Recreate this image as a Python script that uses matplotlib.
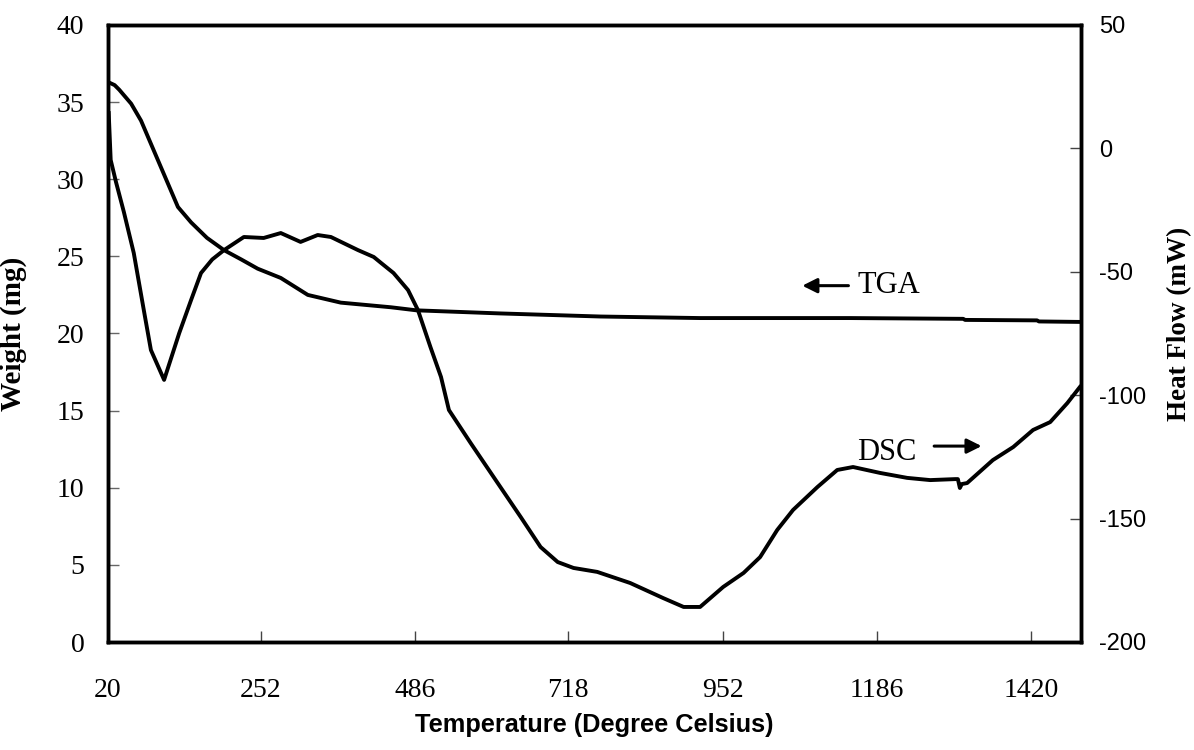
import matplotlib
matplotlib.use("Agg")
import matplotlib.pyplot as plt

# TGA: temperature (C) vs weight (mg), left axis
tga_temp = [20, 30, 37, 47, 55, 70, 96, 126, 146, 170, 196, 222, 247, 282,
            323, 373, 449, 488, 615, 767, 918, 1146, 1317, 1320, 1429, 1432,
            1494]
tga_weight = [36.3, 36.1, 35.8, 35.3, 34.9, 33.8, 31.2, 28.2, 27.2, 26.2,
              25.4, 24.8, 24.2, 23.6, 22.5, 22.0, 21.7, 21.5, 21.3, 21.1, 21.0,
              21.0, 20.95, 20.88, 20.85, 20.78, 20.75]

# DSC: temperature (C) vs heat flow (mW), right axis
dsc_temp = [21, 24, 32, 44, 59, 75, 85, 105, 128, 146, 161, 178, 196, 226,
            256, 282, 312, 338, 358, 399, 423, 434, 453, 475, 490, 509, 525,
            537, 570, 611, 646, 676, 702, 726, 762, 812, 862, 893, 918, 953,
            984, 1009, 1035, 1059, 1096, 1126, 1150, 1191, 1232, 1267, 1305,
            1309, 1312, 1315, 1323, 1362, 1393, 1423, 1449, 1475, 1494]
dsc_flow = [14.3, -4.7, -13.6, -25.8, -42.4, -66.7, -81.7, -93.8, -74.8,
            -61.4, -50.5, -45.0, -41.2, -35.9, -36.3, -34.3, -37.9, -35.1,
            -35.9, -41.2, -44.0, -46.4, -50.5, -57.4, -65.5, -80.5, -92.6,
            -106.0, -119.4, -135.6, -149.4, -161.5, -167.6, -170.0, -171.6,
            -176.1, -182.2, -185.8, -185.8, -177.7, -172.0, -165.6, -154.6,
            -146.5, -137.2, -130.3, -129.1, -131.5, -133.5, -134.4, -134.0,
            -134.0, -137.6, -136.0, -135.6, -126.3, -121.0, -114.1, -110.9,
            -103.2, -96.7]

x_ticks = [20, 252, 486, 718, 952, 1186, 1420]
left_ticks = [0, 5, 10, 15, 20, 25, 30, 35, 40]
right_ticks = [-200, -150, -100, -50, 0, 50]

serif = "Liberation Serif"
sans = "Liberation Sans"

fig = plt.figure(figsize=(11.94, 7.5), dpi=100)
ax1 = fig.add_axes([0.0905, 0.144, 0.815, 0.8227])
ax2 = ax1.twinx()

ax1.plot(tga_temp, tga_weight, color="black", lw=2.8)
ax2.plot(dsc_temp, dsc_flow, color="black", lw=2.8)

ax1.set_xlim(20, 1496)
ax1.set_ylim(0, 40)
ax2.set_ylim(-200, 50)

ax1.set_xticks(x_ticks)
ax1.set_xticklabels([str(t) for t in x_ticks], fontfamily=serif, fontsize=20)
ax1.set_yticks(left_ticks)
ax1.set_yticklabels([str(t) for t in left_ticks], fontfamily=serif, fontsize=20)
ax2.set_yticks(right_ticks)
ax2.set_yticklabels([str(t) for t in right_ticks], fontfamily=sans, fontsize=17)

ax1.tick_params(axis="x", direction="in", length=8, width=1, color="#444444", pad=26)
ax1.tick_params(axis="y", direction="in", length=8, width=1, color="#666666", pad=17)
ax2.tick_params(axis="y", direction="in", length=8, width=1, color="#444444", pad=13)

for ax in (ax1, ax2):
    for sp in ax.spines.values():
        sp.set_linewidth(2.5)

ax1.set_xlabel("Temperature (Degree Celsius)", fontfamily=sans, fontweight="bold",
               fontsize=18.3)
ax1.xaxis.set_label_coords(0.5, -0.115)
ax1.set_ylabel("Weight (mg)", fontfamily=serif, fontweight="bold", fontsize=21)
ax1.yaxis.set_label_coords(-0.083, 0.5)
ax2.set_ylabel("Heat Flow (mW)", fontfamily=serif, fontweight="bold", fontsize=19.5)
ax2.yaxis.set_label_coords(1.088, 0.515)

# curve labels with arrows
ax1.annotate("", xy=(1073, 23.1), xytext=(1143, 23.1),
             arrowprops=dict(arrowstyle="-|>", color="black", lw=2.2,
                             mutation_scale=22, shrinkA=0, shrinkB=0))
ax1.text(1157, 23.1, "TGA", fontfamily=serif, fontsize=22, va="center", ha="left")
ax1.text(1156, 12.3, "DSC", fontfamily=serif, fontsize=22, va="center", ha="left")
ax1.annotate("", xy=(1345, 12.7), xytext=(1273, 12.7),
             arrowprops=dict(arrowstyle="-|>", color="black", lw=2.2,
                             mutation_scale=22, shrinkA=0, shrinkB=0))

fig.savefig("out.png", dpi=100)
